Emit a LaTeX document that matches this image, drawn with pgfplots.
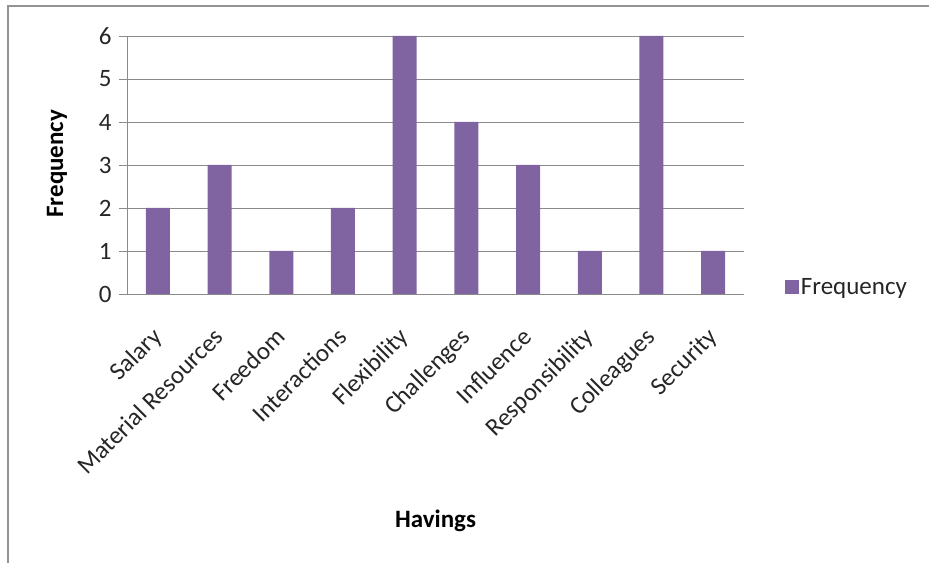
\documentclass[border=0pt]{standalone}
\usepackage{pgfplots}
\pgfplotsset{compat=1.18}
\usepackage{fontspec}
\setmainfont{Carlito}
\definecolor{barc}{HTML}{8064A2}
\definecolor{gridc}{HTML}{8A8A8A}
\begin{document}
\begin{tikzpicture}
\path[use as bounding box] (0bp,0bp) rectangle (929bp,563bp);
\draw[color=gray!85, line width=1.6bp] (8bp,0bp) -- (8bp,557bp) -- (929bp,557bp);
\begin{axis}[
  at={(127bp,269bp)}, anchor=south west,
  scale only axis, width=617bp, height=258bp,
  ymin=0, ymax=6, xmin=-0.5, xmax=9.5,
  ytick={0,1,2,3,4,5,6},
  xtick={0,1,2,3,4,5,6,7,8,9},
  xticklabels={Salary,Material Resources,Freedom,Interactions,Flexibility,Challenges,Influence,Responsibility,Colleagues,Security},
  /pgf/number format/assume math mode=true,
  ymajorgrids, grid style={gridc, line width=0.9bp},
  axis x line=bottom, axis y line=left,
  axis line style={-, gridc, line width=0.9bp},
  x tick style={draw=none},
  y tick style={gridc, line width=0.9bp},
  tick align=outside, major tick length=8bp,
  tick label style={font=\fontsize{25bp}{28bp}\selectfont, color=black!85},
  yticklabel style={xshift=-4bp},
  xticklabel style={rotate=45, anchor=north east, inner sep=1bp, xshift=-21bp, yshift=-11bp},
  ylabel={\textbf{Frequency}},
  ylabel style={at={(axis description cs:-0.1135,0.505)}, anchor=center, font=\fontsize{25bp}{28bp}\selectfont},
  xlabel={\textbf{Havings}},
  xlabel style={at={(axis description cs:0.5,-0.88)}, anchor=center, font=\fontsize{25bp}{28bp}\selectfont},
  legend style={at={(axis description cs:1.066,0.027)}, anchor=west, draw=none, fill=none, font=\fontsize{25bp}{28bp}\selectfont, inner sep=0pt, text=black!85},
  legend image code/.code={\fill[barc] (0bp,-7bp) rectangle (14bp,7bp);},
]
\addplot[ybar, bar width=24bp, fill=barc, draw=none] coordinates {
  (0,2) (1,3) (2,1) (3,2) (4,6) (5,4) (6,3) (7,1) (8,6) (9,1)
};
\addlegendentry{Frequency}
\end{axis}
\end{tikzpicture}
\end{document}
